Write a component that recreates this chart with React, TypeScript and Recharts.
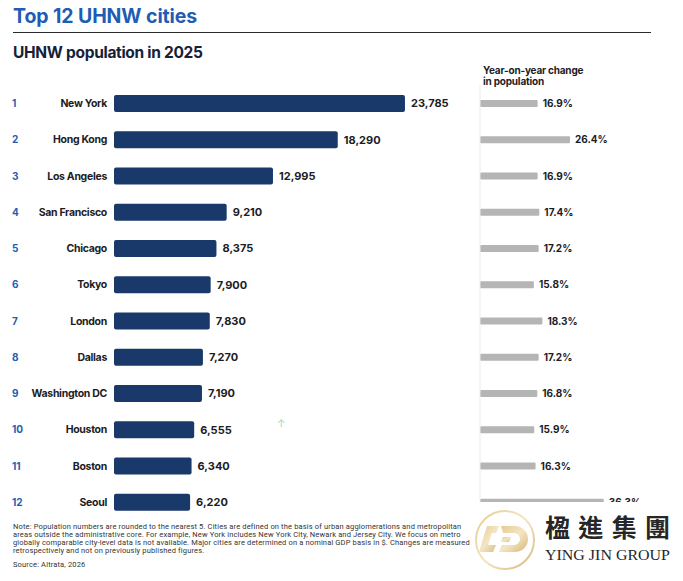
import { Bar, BarChart, LabelList, XAxis, YAxis } from "recharts";

const cities = [
  "New York",
  "Hong Kong",
  "Los Angeles",
  "San Francisco",
  "Chicago",
  "Tokyo",
  "London",
  "Dallas",
  "Washington DC",
  "Houston",
  "Boston",
  "Seoul",
];

const population = [23785, 18290, 12995, 9210, 8375, 7900, 7830, 7270, 7190, 6555, 6340, 6220];

const yoyChange = [16.9, 26.4, 16.9, 17.4, 17.2, 15.8, 18.3, 17.2, 16.8, 15.9, 16.3, 36.3];

const footnoteLines = [
  "Note: Population numbers are rounded to the nearest 5. Cities are defined on the basis of urban agglomerations and metropolitan",
  "areas outside the administrative core. For example, New York includes New York City, Newark and Jersey City. We focus on metro",
  "globally comparable city-level data is not available. Major cities are determined on a nominal GDP basis in $. Changes are measured",
  "retrospectively and not on previously published figures.",
];

const NAVY = "#18396a";
const BLUE = "#1f5cb4";
const GREY_BAR = "#b5b5b5";
const INK = "#1c1c24";
const FONT = "Inter, 'Noto Sans', sans-serif";

const rows = cities.map((city, i) => ({
  rank: i + 1,
  city,
  population: population[i],
  change: yoyChange[i],
}));

function CityTick(props: any) {
  const { y, payload, index } = props;
  return (
    <g>
      <text x={12} y={y} dy={4} fill={BLUE} fontSize={10} fontWeight={700} fontFamily={FONT}>
        {index + 1}
      </text>
      <text
        x={107}
        y={y}
        dy={4}
        textAnchor="end"
        fill={INK}
        fontSize={10.5}
        fontWeight={700}
        letterSpacing={-0.3}
        fontFamily={FONT}
      >
        {payload.value}
      </text>
    </g>
  );
}

function GoldMark() {
  return (
    <svg width={210} height={79} style={{ position: "absolute", left: 473, top: 502 }}>
      <defs>
        <linearGradient id="gold" x1="0" y1="0" x2="1" y2="1">
          <stop offset="0%" stopColor="#e6c98a" />
          <stop offset="50%" stopColor="#f4e6c4" />
          <stop offset="100%" stopColor="#d8b877" />
        </linearGradient>
      </defs>
      <rect x={0} y={0} width={210} height={79} fill="#fff" />
      <circle cx={32} cy={38} r={29} fill="none" stroke="url(#gold)" strokeWidth={2} />
      <path d="M14 24 h12 l-3 7 h-4 l-4 12 h8 l-3 7 h-14 z" fill="url(#gold)" />
      <path d="M28 24 h14 a13 13 0 0 1 0 26 h-16 l3 -7 h12 a6 6 0 0 0 0 -12 h-11 z" fill="url(#gold)" />
      <path d="M30 35 h8 l-2 5 h-8 z" fill="url(#gold)" />
      <text
        x={72}
        y={35}
        fill="#262626"
        fontSize={25}
        fontWeight={700}
        fontFamily="'Noto Sans CJK TC', serif"
        textLength={125}
        lengthAdjust="spacing"
      >
        楹進集團
      </text>
      <text
        x={72}
        y={58}
        fill="#262626"
        fontSize={15}
        fontFamily="'Liberation Serif', serif"
        textLength={125}
        lengthAdjust="spacingAndGlyphs"
      >
        YING JIN GROUP
      </text>
    </svg>
  );
}

export default function App() {
  return (
    <div style={{ position: "relative", width: 683, height: 581, background: "#fff", fontFamily: FONT }}>
      <style>{"body{margin:0}"}</style>

      <div
        style={{
          position: "absolute",
          left: 13,
          top: 4,
          color: BLUE,
          fontSize: 19.5,
          fontWeight: 700,
          letterSpacing: -0.1,
        }}
      >
        Top 12 UHNW cities
      </div>
      <div style={{ position: "absolute", left: 13, top: 32, width: 638, height: 1, background: "#2a2a2a" }} />
      <div
        style={{
          position: "absolute",
          left: 13,
          top: 43,
          color: "#15213a",
          fontSize: 15.5,
          fontWeight: 700,
          letterSpacing: -0.3,
        }}
      >
        UHNW population in 2025
      </div>
      <div
        style={{
          position: "absolute",
          left: 483,
          top: 65,
          color: INK,
          fontSize: 10,
          fontWeight: 700,
          lineHeight: "11px",
          letterSpacing: -0.2,
        }}
      >
        Year-on-year change
        <br />
        in population
      </div>

      {/* UHNW population bars */}
      <div style={{ position: "absolute", left: 0, top: 85 }}>
        <BarChart
          width={481}
          height={435}
          data={rows}
          layout="vertical"
          margin={{ top: 0, right: 0, bottom: 0, left: 0 }}
        >
          <XAxis type="number" domain={[0, 30000]} hide />
          <YAxis
            type="category"
            dataKey="city"
            width={114}
            axisLine={false}
            tickLine={false}
            tick={<CityTick />}
            interval={0}
          />
          <Bar dataKey="population" fill={NAVY} barSize={17} radius={2} isAnimationActive={false}>
            <LabelList
              dataKey="population"
              position="right"
              offset={6}
              fill={INK}
              fontSize={11}
              fontWeight={700}
              fontFamily={FONT}
              formatter={(v: any) => Number(v).toLocaleString("en-US")}
            />
          </Bar>
        </BarChart>
      </div>

      {/* year-on-year change bars */}
      <div style={{ position: "absolute", left: 479, top: 85 }}>
        <BarChart
          width={204}
          height={435}
          data={rows}
          layout="vertical"
          margin={{ top: 0, right: 32.5, bottom: 0, left: 0 }}
        >
          <XAxis type="number" domain={[0, 50]} hide />
          <YAxis
            type="category"
            dataKey="city"
            width={1}
            tick={false}
            tickLine={false}
            axisLine={{ stroke: "#ececec" }}
          />
          <Bar dataKey="change" fill={GREY_BAR} barSize={7} radius={1} isAnimationActive={false}>
            <LabelList
              dataKey="change"
              position="right"
              offset={5}
              fill={INK}
              fontSize={10}
              fontWeight={700}
              fontFamily={FONT}
              formatter={(v: any) => `${Number(v).toFixed(1)}%`}
            />
          </Bar>
        </BarChart>
      </div>

      <div style={{ position: "absolute", left: 277, top: 417, color: "#9fd6c4", fontSize: 10 }}>↑</div>

      <div
        style={{
          position: "absolute",
          left: 13,
          top: 523,
          width: 470,
          color: "#333",
          fontFamily: "Roboto, sans-serif",
          fontSize: 7.5,
          lineHeight: "8.1px",
          letterSpacing: 0.15,
          whiteSpace: "nowrap",
        }}
      >
        {footnoteLines.map((line) => (
          <div key={line}>{line}</div>
        ))}
        <div style={{ marginTop: 6 }}>Source: Altrata, 2026</div>
      </div>

      <GoldMark />
    </div>
  );
}
